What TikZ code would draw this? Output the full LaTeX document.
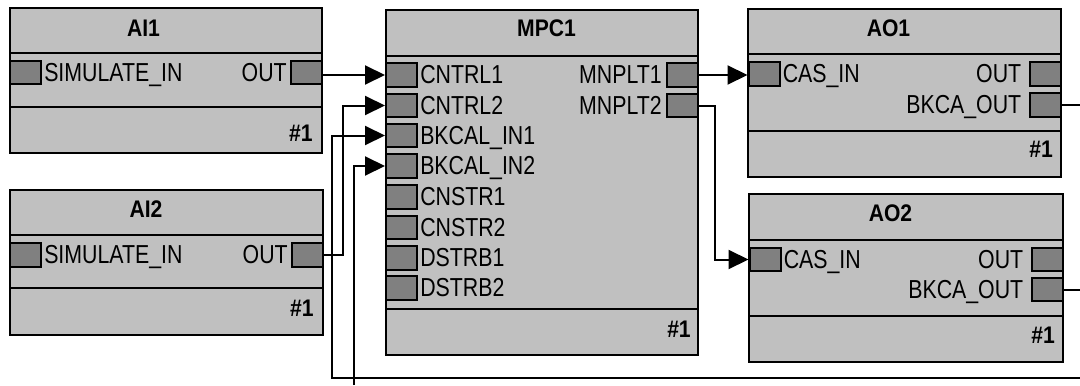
\documentclass[tikz,border=0pt]{standalone}
\usepackage{fontspec}
\newfontfamily\lblfont[FakeStretch=0.82]{Liberation Sans}
\newfontfamily\ttlfont[FakeStretch=0.88]{Liberation Sans}
\usetikzlibrary{arrows.meta,fit}
\definecolor{blkfill}{HTML}{C0C0C0}
\definecolor{portfill}{HTML}{808080}
\begin{document}
\begin{tikzpicture}[x=0.75pt,y=-0.75pt,
 blk/.style={draw=black, fill=blkfill, line width=1.5pt, inner sep=0pt, rectangle},
 divline/.style={line width=1.5pt},
 port/.style={draw=black, fill=portfill, line width=1.5pt, rectangle, inner sep=0pt, minimum width=23.25pt, minimum height=17.6pt},
 lbl/.style={inner sep=0pt, font=\lblfont\fontsize{19.5pt}{21pt}\selectfont},
 lblL/.style={lbl, anchor=base west},
 lblR/.style={lbl, anchor=base east},
 ttl/.style={inner sep=0pt, anchor=base, font=\ttlfont\bfseries\fontsize{18pt}{19pt}\selectfont},
 num/.style={ttl, anchor=base east},
 wire/.style={line width=1.5pt},
 arr/.style={wire, -{Triangle[length=15pt,width=14.25pt]}}]
\useasboundingbox (0,0) rectangle (1080,385);

% ---------- AI1 ----------
\node[blk, fit={(10,8) (322,153)}] (ai1) {};
\draw[divline] (10,53) -- (322,53);
\draw[divline] (10,107) -- (322,107);
\node[ttl] (ai1t) at (143.5,37) {AI1};
\node[port] (ai1sim) at (25.5,72.5) {};
\node[port] (ai1out) at (306.5,72.5) {};
\node[lblL] (ai1simt) at ([xshift=1.5pt,yshift=-6.6pt]ai1sim.east) {SIMULATE\_IN};
\node[lblR] (ai1outt) at ([xshift=-2.25pt,yshift=-6.6pt]ai1out.west) {OUT};
\node[num] (ai1n) at (313,141) {\#1};

% ---------- AI2 ----------
\node[blk, fit={(10,190) (323,335)}] (ai2) {};
\draw[divline] (10,235) -- (323,235);
\draw[divline] (10,288) -- (323,288);
\node[ttl] (ai2t) at (146,217.5) {AI2};
\node[port] (ai2sim) at (25.5,255) {};
\node[port] (ai2out) at (307.5,255) {};
\node[lblL] (ai2simt) at ([xshift=1.5pt,yshift=-6.6pt]ai2sim.east) {SIMULATE\_IN};
\node[lblR] (ai2outt) at ([xshift=-2.25pt,yshift=-6.6pt]ai2out.west) {OUT};
\node[num] (ai2n) at (314,316) {\#1};

% ---------- MPC1 ----------
\node[blk, fit={(386,10) (698,355)}] (mpc) {};
\draw[divline] (386,56) -- (698,56);
\draw[divline] (386,309) -- (698,309);
\node[ttl] (mpct) at (546.5,37) {MPC1};
\foreach \nm/\yy/\tx in {mcn1/75/CNTRL1, mcn2/105.5/CNTRL2, mbk1/135.5/BKCAL\_IN1, mbk2/166/BKCAL\_IN2,
                         mcs1/197/CNSTR1, mcs2/227.5/CNSTR2, mds1/258/DSTRB1, mds2/288/DSTRB2}{
  \node[port] (\nm) at (401.5,\yy) {};
  \node[lblL] (\nm t) at ([xshift=1.5pt,yshift=-6.6pt]\nm.east) {\tx};
}
\node[port] (mmn1) at (682.5,75) {};
\node[port] (mmn2) at (682.5,105.5) {};
\node[lblR] (mmn1t) at ([xshift=-3pt,yshift=-6.6pt]mmn1.west) {MNPLT1};
\node[lblR] (mmn2t) at ([xshift=-3pt,yshift=-6.6pt]mmn2.west) {MNPLT2};
\node[num] (mpcn) at (691,337) {\#1};

% ---------- AO1 ----------
\node[blk, fit={(748,9) (1061,177)}] (ao1) {};
\draw[divline] (748,54) -- (1061,54);
\draw[divline] (748,131) -- (1061,131);
\node[ttl] (ao1t) at (888.5,36.5) {AO1};
\node[port] (ao1cas) at (764,74) {};
\node[port] (ao1out) at (1045,74) {};
\node[port] (ao1bk) at (1045,105) {};
\node[lblL] (ao1cast) at ([xshift=1.5pt,yshift=-6.6pt]ao1cas.east) {CAS\_IN};
\node[lblR] (ao1outt) at ([xshift=-5.25pt,yshift=-6.6pt]ao1out.west) {OUT};
\node[lblR] (ao1bkt) at ([xshift=-5.25pt,yshift=-6.6pt]ao1bk.west) {BKCA\_OUT};
\node[num] (ao1n) at (1053,157.5) {\#1};

% ---------- AO2 ----------
\node[blk, fit={(749,194) (1063,362)}] (ao2) {};
\draw[divline] (749,240) -- (1063,240);
\draw[divline] (749,316) -- (1063,316);
\node[ttl] (ao2t) at (890.5,221) {AO2};
\node[port] (ao2cas) at (765,259.5) {};
\node[port] (ao2out) at (1047,259.5) {};
\node[port] (ao2bk) at (1047,289.5) {};
\node[lblL] (ao2cast) at ([xshift=1.5pt,yshift=-6.6pt]ao2cas.east) {CAS\_IN};
\node[lblR] (ao2outt) at ([xshift=-5.25pt,yshift=-6.6pt]ao2out.west) {OUT};
\node[lblR] (ao2bkt) at ([xshift=-5.25pt,yshift=-6.6pt]ao2bk.west) {BKCA\_OUT};
\node[num] (ao2n) at (1055,343.5) {\#1};

% ---------- connectors ----------
\coordinate (edgeA) at (1080,378);
\coordinate (joinA) at (332,378);
\coordinate (edgeB) at (354,385);
\coordinate (edgeC) at (1080,105);
\coordinate (edgeD) at (1080,289.5);

\draw[arr] (ai1out.east |- mcn1.west) -- (mcn1.west);
\draw[arr] (ai2out.east) -- ++(19,0) |- (mcn2.west);
\draw[arr] (edgeA) -- (joinA) |- (mbk1.west);
\draw[arr] (edgeB) |- (mbk2.west);
\draw[arr] (mmn1.east) -- (mmn1.east -| ao1cas.west);
\draw[arr] (mmn2.east) -- ++(16,0) |- (ao2cas.west);
\draw[wire] (ao1bk.east) -- (ao1bk.east -| edgeC);
\draw[wire] (ao2bk.east) -- (ao2bk.east -| edgeD);
\end{tikzpicture}
\end{document}
